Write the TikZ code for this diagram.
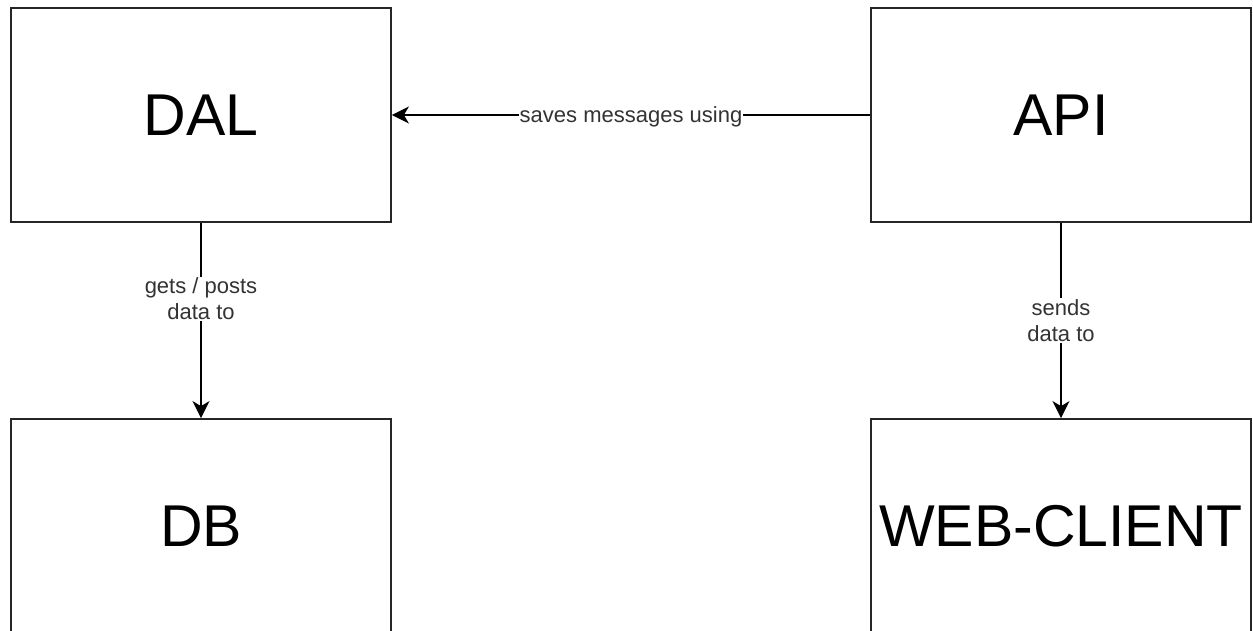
\documentclass[tikz,border=0pt]{standalone}
\usepackage{fontspec}
\setmainfont{Liberation Sans}
\usetikzlibrary{arrows.meta}
\begin{document}
\begin{tikzpicture}[x=1pt,y=1pt,
  box/.style={draw=black!85,line width=1.8pt,minimum width=380pt,minimum height=214pt,inner sep=0pt,font=\fontsize{59}{66}\selectfont},
  conn/.style={draw=black,line width=1.5pt,-{Stealth[length=17pt,width=17pt,inset=5pt]}},
  lbl/.style={fill=white,text=black!80,font=\fontsize{22}{26}\selectfont,align=center,inner sep=1pt}]
\useasboundingbox (0,0) rectangle (1253,630);
\clip (0,0) rectangle (1253,630);
\fill[white] (0,0) rectangle (1253,630);
\node[box] (dal) at (201,515) {DAL};
\node[box] (api) at (1061,515) {API};
\node[box] (db) at (201,104) {DB};
\node[box] (web) at (1061,104) {WEB-CLIENT};
\draw[conn] (api) -- node[lbl,yshift=-2pt] {saves messages using} (dal);
\draw[conn] (dal) -- node[lbl,pos=0.39] {gets / posts\\data to} (db);
\draw[conn] (api) -- node[lbl] {sends\\data to} (web);
\end{tikzpicture}
\end{document}
